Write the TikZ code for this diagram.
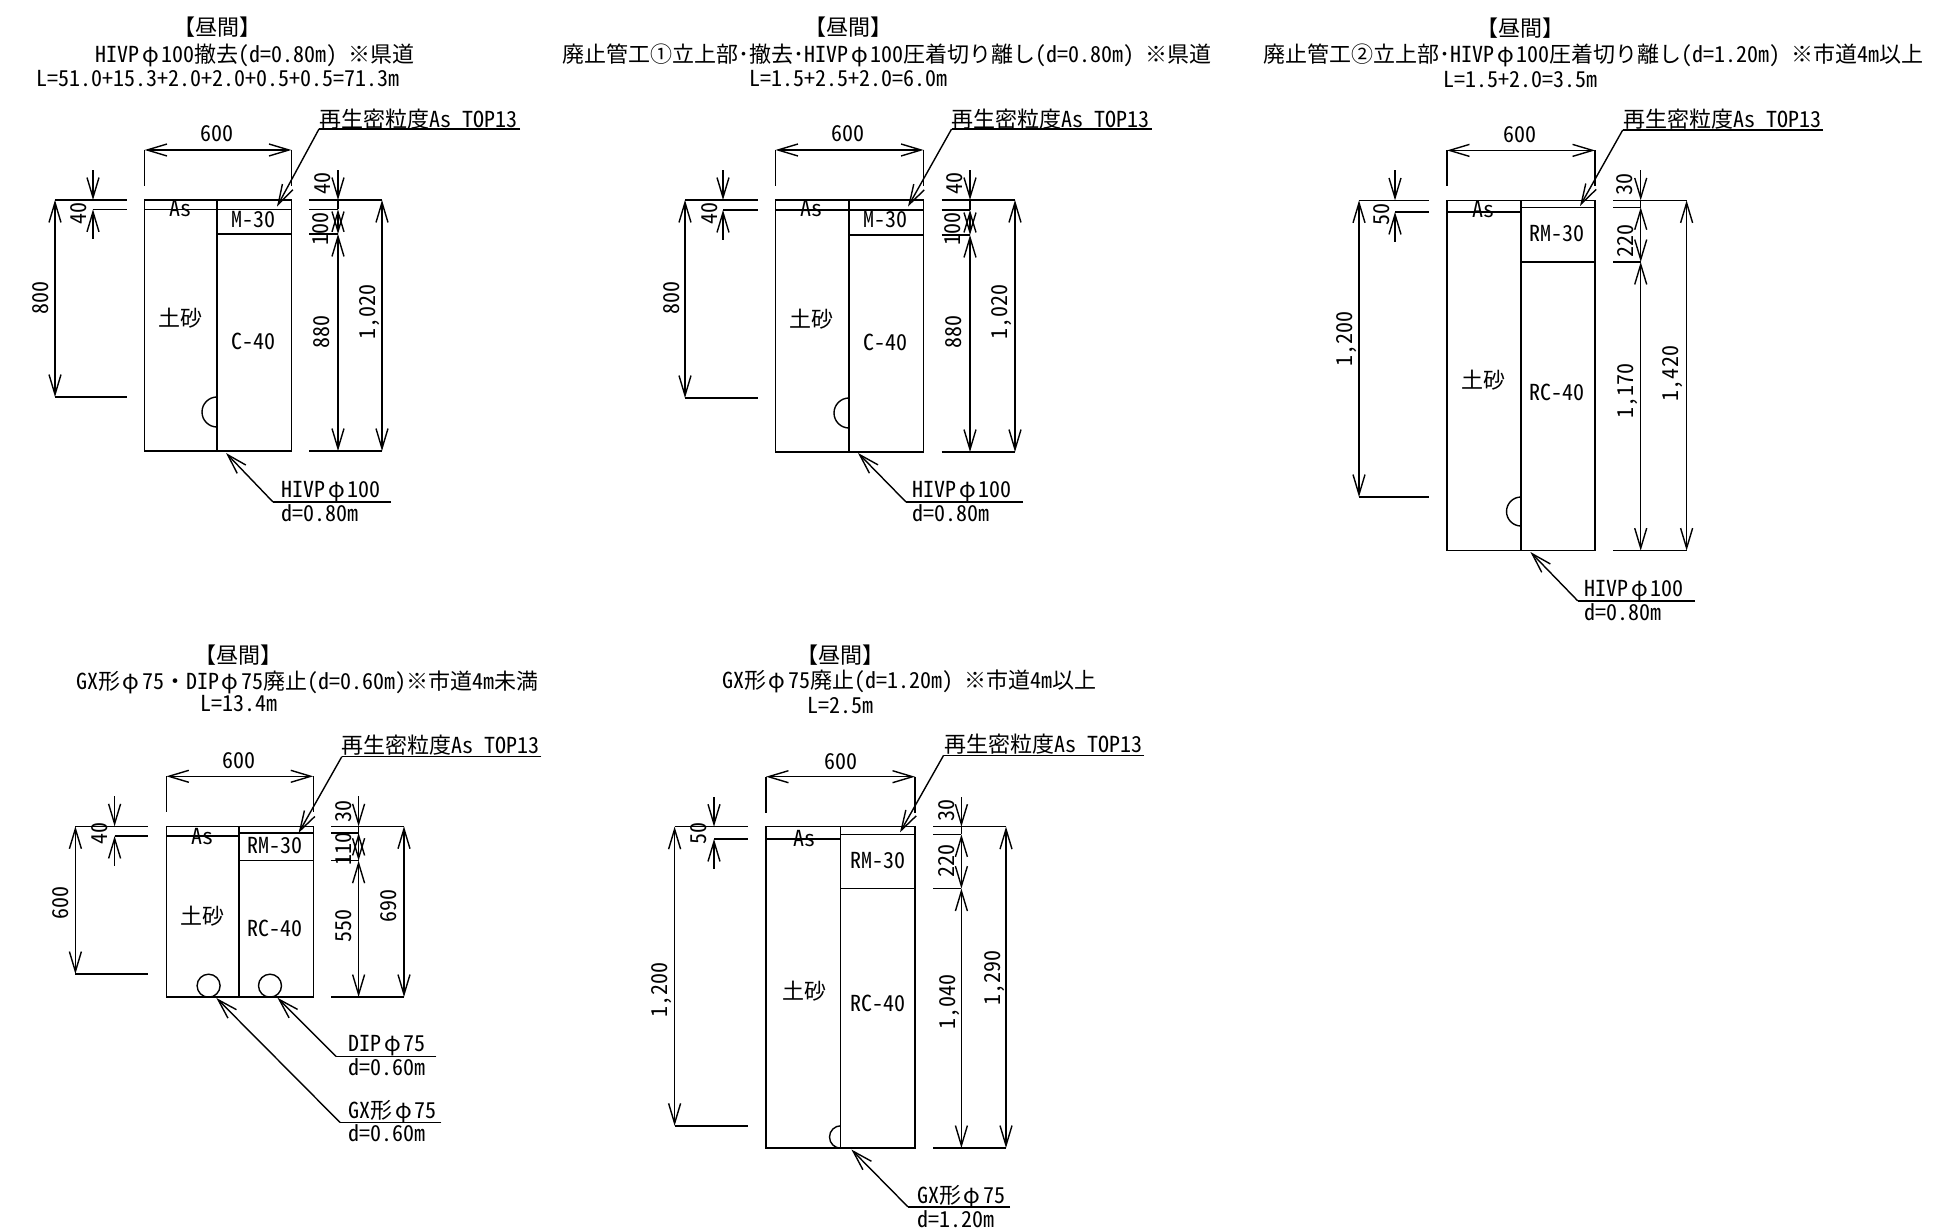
\documentclass[tikz,border=0pt]{standalone}
\usepackage{fontspec}
\setmainfont{Noto Sans CJK JP}[RawFeature=+hwid]
\usetikzlibrary{arrows.meta}

\tikzset{
  every node/.style={inner sep=0pt, font=\fontsize{11}{13}\selectfont},
  dimtext/.style={rotate=90},
  notetext/.style={anchor=west},
  line/.style={line width=.7pt},
  tip/.style={line width=.7pt, {Straight Barb[length=10pt,width=6pt]}-},
  twotips/.style={line width=.7pt, {Straight Barb[length=10pt,width=6pt]}-{Straight Barb[length=10pt,width=6pt]}},
}

\newcommand{\dia}{\makebox[1em]{φ}}

% leader: name, bend, arrow point, end of the underline
\newcommand{\leader}[4]{
  \coordinate (#1bend) at (#2);
  \coordinate (#1point) at (#3);
  \coordinate (#1end) at (#4);
  \draw[line] (#1end) -- (#1bend);
  \draw[tip] (#1point) -- (#1bend);
}

\begin{document}
\begin{tikzpicture}[x=.5pt, y=-.5pt]
  \useasboundingbox (0,0) rectangle (1946,1229);

  % one section: left, middle, right, top, As left, As right, lower layer, bottom, depth line, dim columns
  \foreach \xa/\xb/\xc/\yt/\yl/\yr/\ys/\yb/\ye/\xd/\xe/\xf/\xg in {
      144.6/217/291.4/200/209.4/209.4/234/451/397/55/93/338/382,
      775.5/849/923.5/200/210/210/235/452/398/685/723/970/1015,
      1447/1521/1595/200.4/212/207.3/262/550.6/497/1359/1395/1640.7/1686.6,
      166.4/239/313.2/826.3/836/833/860.7/997/974/75.4/114.6/358.6/404,
      766/840.7/915/826.7/839/834.4/888.6/1148/1125.8/674.6/714/961.4/1006} {
    \draw[line] (\xa,\yt) rectangle (\xc,\yb);
    \draw[line] (\xb,\yt) -- (\xb,\yb);
    \draw[line] (\xa,\yl) -- (\xb,\yl);
    \draw[line] (\xb,\yr) -- (\xc,\yr);
    \draw[line] (\xb,\ys) -- (\xc,\ys);
    % width
    \draw[line] (\xa,\yt-50) -- (\xa,\yt-14);
    \draw[line] (\xc,\yt-50) -- (\xc,\yt-14);
    \draw[twotips] (\xa,\yt-50) -- (\xc,\yt-50);
    % left side
    \draw[line] (\xd,\yt) -- (\xa-18,\yt);
    \draw[line] (\xe,\yl) -- (\xa-18,\yl);
    \draw[line] (\xd,\ye) -- (\xa-18,\ye);
    \draw[twotips] (\xd,\yt) -- (\xd,\ye);
    \draw[tip] (\xe,\yt) -- (\xe,\yt-30);
    \draw[tip] (\xe,\yl) -- (\xe,\yl+30);
    % right side
    \draw[line] (\xc+18,\yt) -- (\xg,\yt);
    \draw[line] (\xc+18,\yr) -- (\xf,\yr);
    \draw[line] (\xc+18,\ys) -- (\xf,\ys);
    \draw[line] (\xc+18,\yb) -- (\xg,\yb);
    \draw[tip] (\xf,\yt) -- (\xf,\yt-30);
    \draw[line] (\xf,\yt) -- (\xf,\yr);
    \draw[twotips] (\xf,\yr) -- (\xf,\ys);
    \draw[twotips] (\xf,\ys) -- (\xf,\yb);
    \draw[twotips] (\xg,\yt) -- (\xg,\yb);
  }

  % pipes
  \draw[line] (217,397) arc[start angle=90, end angle=270, radius=7.5pt];
  \draw[line] (849,398) arc[start angle=90, end angle=270, radius=7.5pt];
  \draw[line] (1521,497) arc[start angle=90, end angle=270, radius=7.25pt];
  \draw[line] (840.7,1125.8) arc[start angle=90, end angle=270, radius=5.6pt];
  \draw[line] (208.6,985.7) circle[radius=5.75pt];
  \draw[line] (270,985.7) circle[radius=5.75pt];

  % section 1
  \node (atime) at (217,27.5) {【昼間】};
  \node (atitle) at (255,55) {HIVP\dia 100撤去(d=0.80m) ※県道};
  \node (alength) at (217.5,78.5) {L=51.0+15.3+2.0+2.0+0.5+0.5=71.3m};
  \node (atop) at (418.6,119) {再生密粒度As TOP13};
  \leader{atop}{319,129}{277,206.6}{520,129}
  \node (awidth) at (217,134) {600};
  \node (aas) at (180,209) {As};
  \node (asoil) at (180,318.5) {土砂};
  \node (amid) at (253.6,220) {M-30};
  \node (abase) at (253.6,341.6) {C-40};
  \node[dimtext] (adepth) at (41,298) {800};
  \node[dimtext] (aasl) at (79,214) {40};
  \node[dimtext] (aasr) at (323,184) {40};
  \node[dimtext] (amidd) at (321,229) {100};
  \node[dimtext] (abased) at (322,332) {880};
  \node[dimtext] (atotal) at (370,312) {1,020};
  \node[notetext] (apipe) at (281,492) {HIVP\dia 100};
  \node[notetext] (apiped) at (281,513) {d=0.80m};
  \leader{apipe}{273,502}{226,453}{391,502}

  % section 2
  \node (btime) at (848,27.5) {【昼間】};
  \node (btitle) at (887,55) {廃止管工①立上部･撤去･HIVP\dia 100圧着切り離し(d=0.80m) ※県道};
  \node (blength) at (848.7,78.5) {L=1.5+2.5+2.0=6.0m};
  \node (btop) at (1050,119) {再生密粒度As TOP13};
  \leader{btop}{951.6,129}{908,206.6}{1151.6,129}
  \node (bwidth) at (848,134) {600};
  \node (bas) at (811,209) {As};
  \node (bsoil) at (811,319) {土砂};
  \node (bmid) at (885,220) {M-30};
  \node (bbase) at (885,342) {C-40};
  \node[dimtext] (bdepth) at (672,298) {800};
  \node[dimtext] (basl) at (710,214) {40};
  \node[dimtext] (basr) at (955,184) {40};
  \node[dimtext] (bmidd) at (953,229) {100};
  \node[dimtext] (bbased) at (954,332) {880};
  \node[dimtext] (btotal) at (1002,312) {1,020};
  \node[notetext] (bpipe) at (912,492) {HIVP\dia 100};
  \node[notetext] (bpiped) at (912,513) {d=0.80m};
  \leader{bpipe}{906,502}{858,453}{1023,502}

  % section 3
  \node (ctime) at (1520,27.8) {【昼間】};
  \node (ctitle) at (1593.4,55) {廃止管工②立上部･HIVP\dia 100圧着切り離し(d=1.20m) ※市道4m以上};
  \node (clength) at (1520.7,79.6) {L=1.5+2.0=3.5m};
  \node (ctop) at (1722.7,119) {再生密粒度As TOP13};
  \leader{ctop}{1622.7,130}{1580,206}{1823,130}
  \node (cwidth) at (1520,134.7) {600};
  \node (cas) at (1483,210) {As};
  \node (csoil) at (1483,380) {土砂};
  \node (cmid) at (1557.4,234) {RM-30};
  \node (cbase) at (1557.4,392) {RC-40};
  \node[dimtext] (cdepth) at (1347,339) {1,200};
  \node[dimtext] (casl) at (1382,215) {50};
  \node[dimtext] (casr) at (1625,184.5) {30};
  \node[dimtext] (cmidd) at (1626,241) {220};
  \node[dimtext] (cbased) at (1628,391) {1,170};
  \node[dimtext] (ctotal) at (1673,373.5) {1,420};
  \node[notetext] (cpipe) at (1584.4,591) {HIVP\dia 100};
  \node[notetext] (cpiped) at (1584.4,612) {d=0.80m};
  \leader{cpipe}{1577.7,600.8}{1530.4,552}{1695,600.8}

  % section 4
  \node (dtime) at (238,654.8) {【昼間】};
  \node (dtitle) at (307,682.3) {GX形\dia 75・DIP\dia 75廃止(d=0.60m)※市道4m未満};
  \node (dlength) at (239.3,704) {L=13.4m};
  \node (dtop) at (440.7,745) {再生密粒度As TOP13};
  \leader{dtop}{341.8,756.7}{298.6,833}{541.4,756.7}
  \node (dwidth) at (239,761) {600};
  \node (das) at (202.5,836.6) {As};
  \node (dsoil) at (202.5,916.5) {土砂};
  \node (dmid) at (275.4,846) {RM-30};
  \node (dbase) at (275.4,928) {RC-40};
  \node[dimtext] (ddepth) at (61,903) {600};
  \node[dimtext] (dasl) at (100,833) {40};
  \node[dimtext] (dasr) at (344,811) {30};
  \node[dimtext] (dmidd) at (344,848.7) {110};
  \node[dimtext] (dbased) at (344,926) {550};
  \node[dimtext] (dtotal) at (389,905.5) {690};
  \node[notetext] (dpipea) at (348,1046) {DIP\dia 75};
  \node[notetext] (dpipead) at (348,1067.3) {d=0.60m};
  \leader{dpipea}{336,1056.3}{277.5,997.8}{436.4,1056.3}
  \node[notetext] (dpipeb) at (348,1112) {GX形\dia 75};
  \node[notetext] (dpipebd) at (348,1133.4) {d=0.60m};
  \leader{dpipeb}{340,1122.4}{216.4,998}{441.4,1122.4}

  % section 5
  \node (etime) at (840,654.8) {【昼間】};
  \node (etitle) at (909,681.6) {GX形\dia 75廃止(d=1.20m) ※市道4m以上};
  \node (elength) at (840.5,705.2) {L=2.5m};
  \node (etop) at (1043.6,744.6) {再生密粒度As TOP13};
  \leader{etop}{943.6,755.3}{900,832.4}{1144,755.3}
  \node (ewidth) at (840.7,761.8) {600};
  \node (eas) at (804,839) {As};
  \node (esoil) at (804,991) {土砂};
  \node (emid) at (877.5,861) {RM-30};
  \node (ebase) at (877.5,1003) {RC-40};
  \node[dimtext] (edepth) at (662,990) {1,200};
  \node[dimtext] (easl) at (699,833.6) {50};
  \node[dimtext] (easr) at (947,810.7) {30};
  \node[dimtext] (emidd) at (947,861) {220};
  \node[dimtext] (ebased) at (950,1002.4) {1,040};
  \node[dimtext] (etotal) at (995,978.4) {1,290};
  \node[notetext] (epipe) at (916.8,1197) {GX形\dia 75};
  \node[notetext] (epiped) at (916.8,1219.4) {d=1.20m};
  \leader{epipe}{907.9,1206.8}{851.4,1149.5}{1010,1206.8}
\end{tikzpicture}
\end{document}
